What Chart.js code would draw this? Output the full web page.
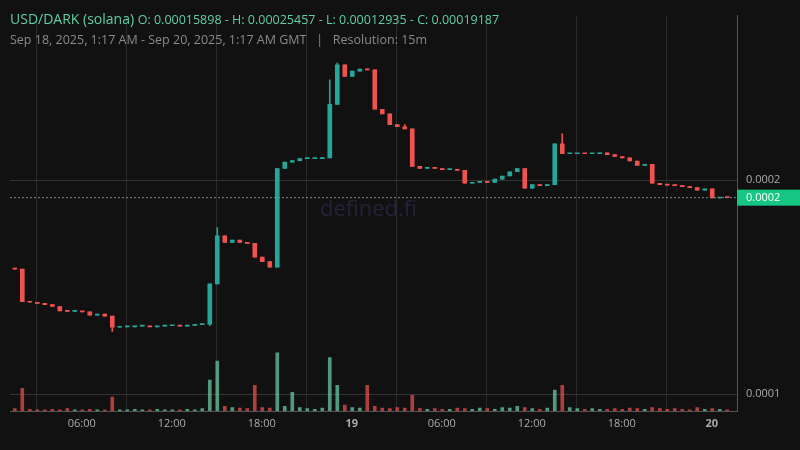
<!DOCTYPE html><html><head><meta charset="utf-8">
<script src="https://cdn.jsdelivr.net/npm/chart.js@4"></script>
<style>body{margin:0;background:#111111;font-family:"Open Sans",sans-serif}
#w{position:relative;width:800px;height:450px}
#h1{position:absolute;left:10px;top:9px;color:#5fcfa5;font-size:14px;white-space:nowrap}
#h1 span{font-size:12.5px}
#h2{position:absolute;left:10px;top:31px;color:#8a8a8a;font-size:12.5px;white-space:pre}
#wm{position:absolute;left:320px;top:192px;color:#23233a;font-size:22px}
</style></head><body><div id="w"><canvas id="c" width="800" height="450"></canvas>
<div id="wm">defined.fi</div>
<div id="h1">USD/DARK (solana) <span>O: 0.00015898 - H: 0.00025457 - L: 0.00012935 - C: 0.00019187</span></div>
<div id="h2">Sep 18, 2025, 1:17 AM - Sep 20, 2025, 1:17 AM GMT   |   Resolution: 15m</div></div>
<script>
// prices in units of 1e-5, 30-minute candles starting Sep 18 1:17
const closes=[15.85,14.33,14.30,14.25,14.19,14.10,13.90,13.87,13.87,13.85,13.70,13.75,13.65,13.13,
13.15,13.15,13.18,13.18,13.15,13.18,13.20,13.20,13.18,13.22,13.25,13.27,
15.16,17.40,17.10,17.20,17.10,17.05,16.41,16.20,15.94,20.55,20.85,20.92,21.01,21.01,21.01,21.05,
23.55,25.39,24.85,25.10,25.20,25.16,23.32,23.10,22.60,22.50,22.40,20.65,20.55,20.60,20.55,20.50,20.50,20.46,
19.86,19.90,19.95,19.90,20.05,20.20,20.40,20.55,19.63,19.80,19.75,19.80,21.70,21.24,21.24,21.26,21.24,21.24,21.28,21.20,
21.11,21.05,20.90,20.70,20.75,19.86,19.80,19.77,19.75,19.70,19.66,19.54,19.60,19.17,19.20,19.19];
const extraHigh={13:13.3,27:17.79,42:24.70,43:25.48,52:22.6,72:21.70,73:22.17};
const extraLow={13:12.935,26:13.2};
const volumes=[4,39,3,2,2,3,2,4,2,2,3,2,2,24,2,2,3,2,2,3,2,2,2,3,2,4,53,86,8,6,5,4,44,6,5,100,8,32,6,4,3,5,
92,44,10,6,5,44,8,5,4,6,5,27,4,3,4,3,3,5,4,3,5,4,3,6,5,8,6,4,3,5,36,44,6,4,3,4,3,3,4,3,5,4,3,6,4,3,4,3,2,6,3,4,3,2];
const tickHours=[4.717,10.717,16.717,22.717,28.717,34.717,40.717,46.717];
const tickLabels=["06:00","12:00","18:00","19","06:00","12:00","18:00","20"];
const lastClose=19.187;
const G='#26a69a',R='#ef5350';
const wick=[],body=[],vol=[],cols=[],vcols=[];
closes.forEach((c,i)=>{const o=i?closes[i-1]:15.898;const t=i*0.5+0.25;
 const hi=Math.max(o,c,extraHigh[i]||0),lo=Math.min(o,c,extraLow[i]||99);
 wick.push({x:t,y:[lo*1e-5,hi*1e-5]});body.push({x:t,y:[o*1e-5,c*1e-5]});
 const col=c>=o?G:R;cols.push(col);vcols.push(c>=o?'rgba(110,210,170,0.7)':'rgba(239,83,80,0.7)');
 vol.push({x:t,y:volumes[i]});});
const pl={id:'p',afterDatasetsDraw(ch){const y=ch.scales.y,a=ch.chartArea,ctx=ch.ctx;const py=y.getPixelForValue(lastClose*1e-5);
 ctx.save();ctx.strokeStyle='#888';ctx.setLineDash([2,2]);ctx.beginPath();ctx.moveTo(a.left,py);ctx.lineTo(a.right,py);ctx.stroke();
 ctx.setLineDash([]);ctx.fillStyle='#16c784';ctx.fillRect(a.right,py-8,63,16);ctx.fillStyle='#fff';ctx.font='11px "Open Sans"';ctx.textBaseline='middle';ctx.fillText('0.0002',a.right+9,py);
 ctx.strokeStyle='#555';ctx.beginPath();ctx.moveTo(a.left,a.bottom+0.5);ctx.lineTo(a.right,a.bottom+0.5);ctx.stroke();ctx.restore();}};
new Chart(document.getElementById('c'),{type:'bar',data:{datasets:[
 {data:wick,backgroundColor:cols,barThickness:1,grouped:false,yAxisID:'y'},
 {data:body,backgroundColor:cols,barThickness:4,grouped:false,minBarLength:1,yAxisID:'y'},
 {data:vol,backgroundColor:vcols,barThickness:3,grouped:false,yAxisID:'v'}]},
 options:{animation:false,responsive:false,plugins:{legend:{display:false},tooltip:{enabled:false}},
 layout:{padding:{left:10,top:10,right:0,bottom:0}},
 scales:{x:{type:'linear',min:-0.07,max:48.4,offset:false,grid:{color:'#2a2a2a',drawTicks:false},border:{color:'#555'},
  afterBuildTicks:s=>{s.ticks=tickHours.map(v=>({value:v}))},afterFit:s=>{s.height=39},
  ticks:{color:'#aaa',padding:6,maxRotation:0,font:c=>({family:'Open Sans',size:11,weight:(c.index==3||c.index==7)?'bold':'normal'}),callback:(v,i)=>tickLabels[i]}},
  y:{position:'right',min:9.217e-5,max:27.696e-5,afterBuildTicks:s=>{s.ticks=[{value:1e-4},{value:2e-4}]},afterFit:s=>{s.width=63},
   grid:{color:'#333',drawTicks:false},border:{color:'#555'},ticks:{color:'#aaa',padding:9,font:{family:'Open Sans',size:11},callback:v=>v.toFixed(4)}},
  v:{display:false,min:0,max:680}}},plugins:[pl]});
</script></body></html>
